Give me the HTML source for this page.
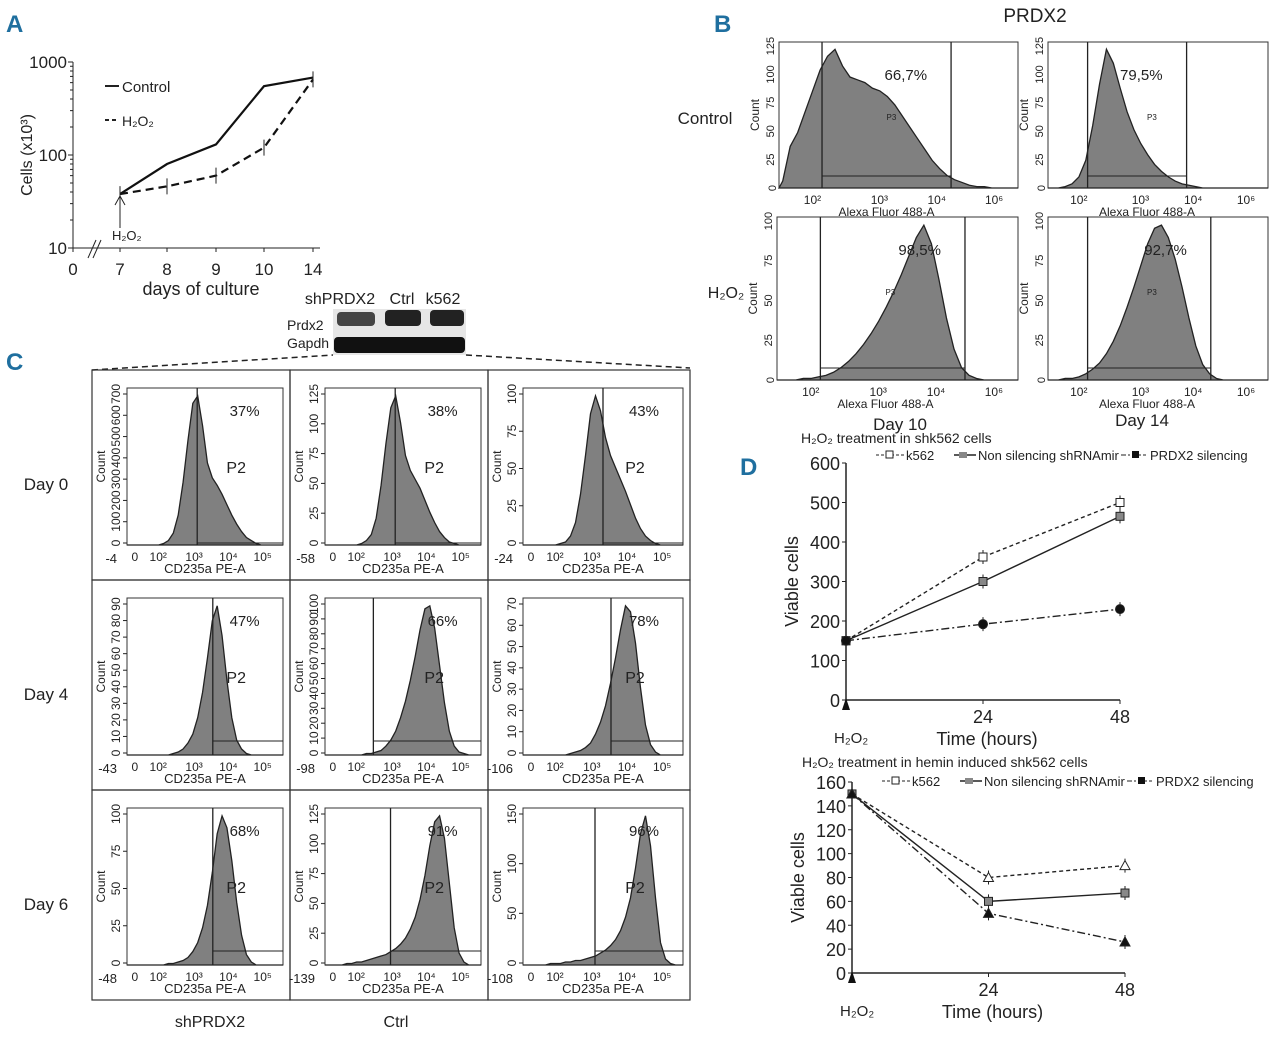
<!DOCTYPE html>
<html><head><meta charset="utf-8">
<style>
body{margin:0;background:#fff;}
svg{display:block;font-family:"Liberation Sans",sans-serif;}
text{fill:#222;}
</style></head>
<body>
<svg id="fig" width="1280" height="1047" viewBox="0 0 1280 1047" xmlns="http://www.w3.org/2000/svg">
<g id="root"></g>
</svg>
<script>
// ---------- DATA ----------
const aDays = [7, 8, 9, 10, 14];
const aDayLabels = ["0", "7", "8", "9", "10", "14"];
const aControl = [38, 80, 130, 550, 680];
const aH2O2 = [38, 46, 60, 120, 650];
const aYTicks = [10, 100, 1000];
const dTime = [0, 24, 48];
const dTopK562 = [150, 362, 500];
const dTopNonSil = [150, 300, 465];
const dTopPRDX2 = [150, 192, 230];
const dTopYTicks = [0, 100, 200, 300, 400, 500, 600];
const dBotK562 = [150, 80, 90];
const dBotNonSil = [150, 60, 67];
const dBotPRDX2 = [150, 50, 26];
const dBotYTicks = [0, 20, 40, 60, 80, 100, 120, 140, 160];
// Panel B histograms
const bCtrlDay10 = [5,30,40,55,70,85,95,100,88,80,78,76,72,70,66,60,52,44,36,28,20,14,9,6,4,2,1,1,0,0,0,0];
const bCtrlDay14 = [0,0,1,3,8,20,45,75,100,90,72,55,42,32,24,17,12,8,5,3,2,1,0,0,0,0,0,0,0,0,0,0];
const bH2O2Day10 = [0,0,0,1,1,2,3,5,8,12,17,23,30,38,47,57,68,80,92,100,88,65,40,20,8,3,1,0,0,0,0,0];
const bH2O2Day14 = [0,0,1,1,2,4,7,11,17,25,35,47,60,74,88,98,100,92,78,60,40,22,10,4,1,0,0,0,0,0,0,0];
const bPercents = ["66,7%","79,5%","98,5%","92,7%"];
// Panel C histograms
const cDay0Sh = [0,0,0,0,0,0,0,1,3,8,20,42,70,95,100,80,55,45,40,34,27,20,14,9,5,3,1,0,0,0,0,0];
const cDay0Ctrl = [0,0,0,0,0,0,0,1,3,7,18,40,68,92,100,82,60,50,44,38,30,22,15,9,5,2,1,0,0,0,0,0];
const cDay0K = [0,0,0,0,0,0,0,1,2,6,15,34,60,88,100,90,72,60,52,44,36,27,18,11,6,3,1,0,0,0,0,0];
const cDay4Sh = [0,0,0,0,0,0,0,0,0,1,2,4,8,14,25,42,65,90,100,80,50,25,10,4,1,0,0,0,0,0,0,0];
const cDay4Ctrl = [0,0,0,0,0,0,0,0,1,1,2,3,6,10,16,25,36,50,66,84,98,100,85,60,35,16,6,2,1,0,0,0];
const cDay4K = [0,0,0,0,0,0,0,0,0,1,2,3,5,8,14,22,33,48,65,84,100,96,75,45,20,7,2,0,0,0,0,0];
const cDay6Sh = [0,0,0,0,0,0,0,0,1,1,2,3,5,9,15,25,40,62,88,100,92,70,42,20,7,2,0,0,0,0,0,0];
const cDay6Ctrl = [0,0,0,0,1,1,2,2,3,4,5,6,7,9,11,14,18,24,32,44,60,80,96,100,85,55,25,8,2,0,0,0];
const cDay6K = [0,0,0,0,0,1,1,1,2,2,3,3,4,5,6,8,10,13,17,23,32,45,65,88,100,80,45,15,4,1,0,0];
const cPercents = [["37%","38%","43%"],["47%","66%","78%"],["68%","91%","96%"]];
const cYTicks = [
  [["0","100","200","300","400","500","600","700"],["0","25","50","75","100","125"],["0","25","50","75","100"]],
  [["0","10","20","30","40","50","60","70","80","90"],["0","10","20","30","40","50","60","70","80","90","100"],["0","10","20","30","40","50","60","70"]],
  [["0","25","50","75","100"],["0","25","50","75","100","125"],["0","50","100","150"]]
];

// ---------- HELPERS ----------
const NS = "http://www.w3.org/2000/svg";
const root = document.getElementById("root");
function el(tag, attrs, parent, txt){
  const e = document.createElementNS(NS, tag);
  for (const k in attrs) e.setAttribute(k, attrs[k]);
  if (txt !== undefined) e.textContent = txt;
  (parent || root).appendChild(e);
  return e;
}
function txt(x,y,s,size,anchor,parent,extra){
  const t = el("text", Object.assign({x:x,y:y,"font-size":size,"text-anchor":anchor||"start"}, extra||{}), parent, s);
  
  
  return t;
}
function line(x1,y1,x2,y2,parent,extra){
  return el("line", Object.assign({x1:x1,y1:y1,x2:x2,y2:y2,stroke:"#222","stroke-width":1}, extra||{}), parent);
}

[["A",6,32],["B",714,32],["C",6,370],["D",740,475]].forEach(p=>{
  const t = txt(p[1],p[2],p[0],24,"start",null,{"font-weight":"bold",style:"fill:#1f6f9f"});
  
});

// ---------- PANEL A ----------
(function(){
  const g = el("g",{});
  
  
  const x0 = 73, yTop = 62, yBot = 248;
  const dayX = {0:73, 7:120, 8:167, 9:216, 10:264, 14:313};
  const ly = v => yBot - (Math.log10(v) - 1) / 2 * (yBot - yTop);
  line(x0,yTop,x0,yBot,g); line(x0,yBot,320,yBot,g);
  aYTicks.forEach(v=>{ line(x0-5,ly(v),x0,ly(v),g); txt(x0-6,ly(v)+6,String(v),17,"end",g); });
  [20,30,40,50,60,70,80,90,200,300,400,500,600,700,800,900].forEach(v=>line(x0-3,ly(v),x0,ly(v),g));
  aDayLabels.forEach(d=>{ const x = dayX[+d]; line(x,yBot,x,yBot+4,g); txt(x,yBot+27,d,17,"middle",g); });
  line(88,258,96,240,g); line(93,258,101,240,g);
  txt(201,295,"days of culture",18,"middle",g);
  txt(32,155,"Cells (x10³)",16,"middle",g,{transform:"rotate(-90 32 155)"});
  const pts = arr => arr.map((v,i)=>dayX[aDays[i]]+","+ly(v)).join(" ");
  const c = el("polyline",{points:pts(aControl),fill:"none",stroke:"#111","stroke-width":2.2},g);
   
  const h = el("polyline",{points:pts(aH2O2),fill:"none",stroke:"#111","stroke-width":2.2,"stroke-dasharray":"8,5"},g);
   
  aH2O2.forEach((v,i)=>{ const x = dayX[aDays[i]]; line(x,ly(v)-8,x,ly(v)+8,g); });
  line(105,86,119,86,g,{"stroke-width":2}); txt(122,92,"Control",15,"start",g);
  line(105,120,119,120,g,{"stroke-width":2,"stroke-dasharray":"4,3"}); txt(122,126,"H₂O₂",14,"start",g);
  line(120,228,120,200,g); el("path",{d:"M115,205 L120,196 L125,205",fill:"none",stroke:"#222"},g);
  txt(112,240,"H₂O₂",13,"start",g);
})();

// ---------- HISTOGRAM HELPER ----------
function hist(parent, name, x, y, w, h, arr, opt){
  const g = el("g",{},parent);
  
  
  el("rect",{x:x,y:y,width:w,height:h,fill:"none",stroke:"#333"},g);
  const n = arr.length, bw = w / n;
  let d = "M"+x+","+(y+h);
  arr.forEach((v,i)=>{ const yy = y + h - v/100*h*0.95; d += " L"+(x+(i+0.5)*bw)+","+yy; });
  d += " L"+(x+w)+","+(y+h)+" Z";
  const p = el("path",{d:d,fill:"#808080",stroke:"#222","stroke-width":1.3},g);
   
  if (opt.gate1 !== undefined) line(x+opt.gate1*w,y,x+opt.gate1*w,y+h,g,{"stroke-width":1.3});
  if (opt.gate2 !== undefined) line(x+opt.gate2*w,y,x+opt.gate2*w,y+h,g,{"stroke-width":1.3});
  if (opt.hline !== undefined) line(x+opt.gate1*w,y+h-opt.hline,x+(opt.gate2!==undefined?opt.gate2:1)*w,y+h-opt.hline,g);
  return g;
}

// ---------- PANEL B ----------
(function(){
  const g = el("g",{});
  
  
  txt(1035,22,"PRDX2",19,"middle",g);
  txt(705,124,"Control",17,"middle",g);
  txt(726,298,"H₂O₂",16,"middle",g);
  const panels = [
    [779,42,239,146,bCtrlDay10,0.18,0.72,"bctrl-day10",["25","50","75","100","125"]],
    [1048,42,220,146,bCtrlDay14,0.18,0.63,"bctrl-day14",["25","50","75","100","125"]],
    [777,217,241,163,bH2O2Day10,0.18,0.78,"bh2o2-day10",["25","50","75","100"]],
    [1048,217,220,163,bH2O2Day14,0.18,0.74,"bh2o2-day14",["25","50","75","100"]]
  ];
  panels.forEach((p,i)=>{
    const hg = hist(g,p[7],p[0],p[1],p[2],p[3],p[4],{gate1:p[5],gate2:p[6],hline:12});
    txt(p[0]+p[6]*p[2]-24,p[1]+38,bPercents[i],15,"end",hg);
    txt(p[0]+p[2]*0.45,p[1]+78,"P3",8,"start",hg);
    const yt = p[8];
    txt(p[0]-5,p[1]+p[3]+2,"0",11,"middle",hg,{transform:"rotate(-90 "+(p[0]-5)+" "+(p[1]+p[3])+")"});
    yt.forEach((s,k)=>{ const yy = p[1]+p[3]-(k+1)/yt.length*(p[3]-4);
      txt(p[0]-5,yy,s,11,"middle",hg,{transform:"rotate(-90 "+(p[0]-5)+" "+yy+")"}); });
    txt(p[0]-20,p[1]+p[3]/2,"Count",12,"middle",hg,{transform:"rotate(-90 "+(p[0]-20)+" "+(p[1]+p[3]/2)+")"});
    [["10²",0.14],["10³",0.42],["10⁴",0.66],["10⁶",0.9]].forEach(t=>txt(p[0]+t[1]*p[2],p[1]+p[3]+16,t[0],12,"middle",hg));
    txt(p[0]+p[2]*0.45,p[1]+p[3]+28,"Alexa Fluor 488-A",12,"middle",hg);
  });
  txt(900,430,"Day 10",17,"middle",g);
  txt(1142,426,"Day 14",17,"middle",g);
})();

// ---------- WESTERN BLOT ----------
(function(){
  const g = el("g",{});
  
  
  txt(340,304,"shPRDX2",16,"middle",g); txt(402,304,"Ctrl",16,"middle",g); txt(443,304,"k562",16,"middle",g);
  txt(287,330,"Prdx2",14,"start",g); txt(287,348,"Gapdh",14,"start",g);
  el("rect",{x:333,y:309,width:133,height:46,fill:"#e6e6e6"},g);
  [[337,312,38,14,"#444"],[385,310,36,16,"#222"],[430,310,34,16,"#222"],[334,337,131,16,"#111"]].forEach(b=>{
    el("rect",{x:b[0],y:b[1],width:b[2],height:b[3],rx:4,fill:b[4]},g);
  });
  line(92,370,333,355,g,{"stroke-dasharray":"6,4","stroke-width":1.5});
  line(466,355,690,368,g,{"stroke-dasharray":"6,4","stroke-width":1.5});
})();

// ---------- PANEL C ----------
(function(){
  const g = el("g",{});
  
  
  const colX = [92,290,488], colW = [198,198,202], rowY = [370,580,790], rowH = 210;
  const data = [[cDay0Sh,cDay0Ctrl,cDay0K],[cDay4Sh,cDay4Ctrl,cDay4K],[cDay6Sh,cDay6Ctrl,cDay6K]];
  const gates = [[0.45,0.45,0.5],[0.55,0.31,0.55],[0.55,0.42,0.45]];
  const xmin = [["-4","-58","-24"],["-43","-98","-106"],["-48","-139","-108"]];
  const rowLbl = ["Day 0","Day 4","Day 6"];
  rowY.forEach((ry,r)=>{
    txt(46,ry+120,rowLbl[r],17,"middle",g);
    colX.forEach((cx,c)=>{
      el("rect",{x:cx,y:ry,width:colW[c],height:rowH,fill:"none",stroke:"#333","stroke-width":1.2},g);
      const x = cx+35, y = ry+18, w = colW[c]-42, h = 157;
      const hg = hist(g,"c-hist-r"+r+"-c"+c,x,y,w,h,data[r][c],{gate1:gates[r][c],hline:r===0?2:r===1?14:14});
      txt(x+w*0.85,y+28,cPercents[r][c],15,"end",hg);
      txt(x+w*0.7,y+85,"P2",16,"middle",hg);
      txt(x-22,y+h/2,"Count",12,"middle",hg,{transform:"rotate(-90 "+(x-22)+" "+(y+h/2)+")"});
      const yt = cYTicks[r][c];
      yt.forEach((s,k)=>{ const yy = y+h-2-k*(h-8)/(yt.length-1);
        line(x-4,yy,x,yy,hg);
        txt(x-7,yy,s,12,"middle",hg,{transform:"rotate(-90 "+(x-7)+" "+yy+")"}); });
      txt(x-10,y+h+18,xmin[r][c],13,"end",hg);
      [["0",0.05],["10²",0.2],["10³",0.43],["10⁴",0.65],["10⁵",0.87]].forEach(t=>txt(x+t[1]*w,y+h+16,t[0],12,"middle",hg));
      txt(x+w*0.5,y+h+28,"CD235a PE-A",13,"middle",hg);
    });
  });
  txt(210,1027,"shPRDX2",16,"middle",g); txt(396,1027,"Ctrl",16,"middle",g);
})();

// ---------- PANEL D ----------
function lineChart(name, x0, xEnd, y0, yTop, ymax, yTicks, s1, s2, s3, title, legendY, tri){
  const g = el("g",{});
  
  
  const sx = t => x0 + t/48*(xEnd-x0);
  const sy = v => y0 - v/ymax*(y0-yTop);
  line(x0,yTop,x0,y0,g,{"stroke-width":1.5}); line(x0,y0,xEnd,y0,g,{"stroke-width":1.5});
  yTicks.forEach(v=>{ line(x0-4,sy(v),x0,sy(v),g); txt(x0-6,sy(v)+7,String(v),18,"end",g); });
  dTime.forEach(t=>{ line(sx(t),y0,sx(t),y0+4,g); if(t>0) txt(sx(t),y0+23,String(t),18,"middle",g); });
  txt(x0-48,(y0+yTop)/2,"Viable cells",18,"middle",g,{transform:"rotate(-90 "+(x0-48)+" "+((y0+yTop)/2)+")"});
  txt(title[1],title[2],title[0],14,"start",g);
  const series = [[s1,"4,3","open"],[s2,"","gray"],[s3,"8,3,2,3","black"]];
  series.forEach((s,i)=>{
    const pl = el("polyline",{points:s[0].map((v,k)=>sx(dTime[k])+","+sy(v)).join(" "),fill:"none",stroke:"#222","stroke-width":1.4,"stroke-dasharray":s[1]},g);
     
    s[0].forEach((v,k)=>{
      const X = sx(dTime[k]), Y = sy(v);
      line(X,Y-7,X,Y+7,g);
      const fill = s[2]==="open"?"#fff":s[2]==="gray"?"#888":"#111";
      let m;
      if (tri && s[2]!=="gray") m = el("path",{d:"M"+(X-5)+","+(Y+4)+" L"+X+","+(Y-5)+" L"+(X+5)+","+(Y+4)+" Z",fill:fill,stroke:"#222"},g);
      else if (s[2]==="black" && !tri) m = el("circle",{cx:X,cy:Y,r:4.5,fill:fill,stroke:"#222"},g);
      else m = el("rect",{x:X-4,y:Y-4,width:8,height:8,fill:fill,stroke:"#222"},g);
       
    });
  });
  line(x0+30,legendY,x0+58,legendY,g,{"stroke-dasharray":"3,2"}); el("rect",{x:x0+40,y:legendY-4,width:7,height:7,fill:"#fff",stroke:"#222"},g);
  txt(x0+60,legendY+5,"k562",13,"start",g);
  line(x0+108,legendY,x0+130,legendY,g,{"stroke-width":1.5}); el("rect",{x:x0+113,y:legendY-3,width:8,height:6,fill:"#888"},g);
  txt(x0+132,legendY+5,"Non silencing shRNAmir",13,"start",g);
  line(x0+275,legendY,x0+300,legendY,g,{"stroke-dasharray":"5,2,2,2"}); el("rect",{x:x0+286,y:legendY-4,width:7,height:7,fill:"#111"},g);
  txt(x0+304,legendY+5,"PRDX2 silencing",13,"start",g);
  txt(x0-12,y0+43,"H₂O₂",15,"start",g);
  el("path",{d:"M"+(x0-4)+","+(y0+10)+" L"+x0+","+(y0-2)+" L"+(x0+4)+","+(y0+10)+" Z",fill:"#111"},g);
  txt((x0+xEnd)/2+4,y0+45,"Time (hours)",18,"middle",g);
}
lineChart("panel-d-top-chart",846,1120,700,463,600,dTopYTicks,dTopK562,dTopNonSil,dTopPRDX2,["H₂O₂ treatment in shk562 cells",801,443],455,false);
lineChart("panel-d-bottom-chart",852,1125,973,782,160,dBotYTicks,dBotK562,dBotNonSil,dBotPRDX2,["H₂O₂ treatment in hemin induced shk562 cells",802,767],781,true);
</script>
</body></html>
